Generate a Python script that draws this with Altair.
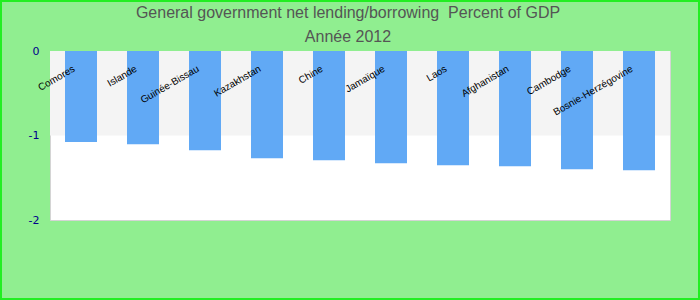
import altair as alt
import pandas as pd

countries = ["Comores", "Islande", "Guinée-Bissau", "Kazakhstan", "Chine",
             "Jamaïque", "Laos", "Afghanistan", "Cambodge", "Bosnie-Herzégovine"]
values = [-1.076, -1.103, -1.174, -1.269, -1.293, -1.329, -1.352, -1.364, -1.400, -1.412]
band_top = [0]
band_bottom = [-1]
y_ticks = [0, -1, -2]

df = pd.DataFrame({"country": countries, "value": values})
band_df = pd.DataFrame({"top": band_top, "bottom": band_bottom})

x_scale = alt.Scale(domain=countries, paddingInner=0.4839, paddingOuter=0.242)
y_scale = alt.Scale(domain=[-2, 0], nice=False, zero=False)

band = alt.Chart(band_df).mark_rect(color="#f4f4f4").encode(
    y=alt.Y("top:Q", scale=y_scale,
            axis=alt.Axis(values=y_ticks, labelExpr="datum.value == 0 ? '0' : '-' + (-datum.value)",
                          title=None, ticks=False, tickSize=0, labelOverlap=False,
                          domain=False, grid=False, labelPadding=11,
                          labelColor="#00008B", labelFontSize=11,
                          labelFont="DejaVu Sans")),
    y2="bottom:Q",
)

bars = alt.Chart(df).mark_bar(color="#61a9f5").encode(
    x=alt.X("country:N", scale=x_scale, sort=countries, axis=None),
    y=alt.Y("value:Q", scale=y_scale),
    y2=alt.datum(0),
)

labels = alt.Chart(df).mark_text(
    angle=330, align="right", baseline="middle", dx=-14.5, dy=11.5,
    font="Liberation Sans", fontSize=10, color="black",
).encode(
    x=alt.X("country:N", scale=x_scale, sort=countries, axis=None),
    y=alt.datum(0),
    text="country:N",
)

frame = alt.Chart(band_df).mark_rect(filled=False, stroke="#22ee22", strokeWidth=2).encode(
    x=alt.value(-49), x2=alt.value(649), y=alt.value(-50), y2=alt.value(248),
)

chart = alt.layer(band, bars, labels, frame).properties(
    width=620, height=169,
    background="#90EE90",
    padding={"left": 50, "top": 51, "right": 30, "bottom": 80},
    autosize=alt.AutoSizeParams(type="none"),
    title=alt.TitleParams(
        text="General government net lending/borrowing \u00a0Percent of GDP",
        subtitle="Année 2012",
        anchor="middle", dx=-12, offset=-45,
        font="Liberation Sans", fontSize=16, fontWeight="normal", color="#555555",
        subtitleFont="Liberation Sans", subtitleFontSize=16, subtitleColor="#555555",
        subtitlePadding=8,
    ),
).configure_view(fill="white", stroke="#d4d4d4", strokeWidth=1)

chart.save("out.html", embed_options={"renderer": "svg", "actions": False})
